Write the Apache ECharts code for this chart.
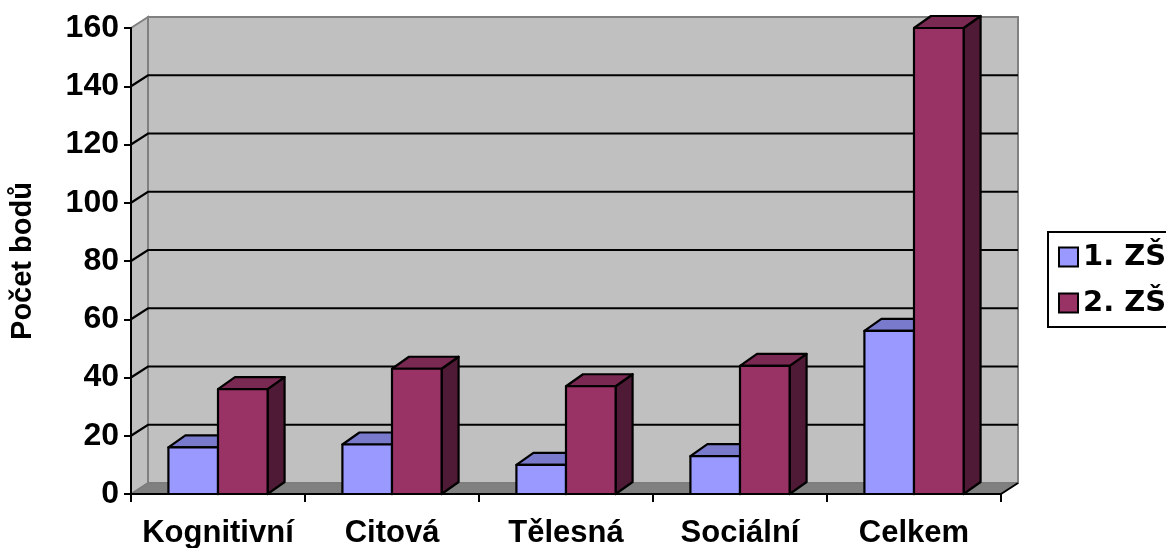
<!DOCTYPE html>
<html>
<head>
<meta charset="utf-8">
<script src="https://cdn.jsdelivr.net/npm/echarts@6/dist/echarts.min.js"></script>
<style>
  html, body { margin: 0; padding: 0; background: #ffffff; }
  #chart { width: 1166px; height: 548px; }
</style>
</head>
<body>
<div id="chart"></div>
<script>
// Categories and values (počet bodů)
const categories = ['Kognitivní', 'Citová', 'Tělesná', 'Sociální', 'Celkem'];
const seriesNames = ['1. ZŠ', '2. ZŠ'];
const values1 = [16, 17, 10, 13, 56];
const values2 = [36, 43, 37, 44, 160];
const yTicks = [0, 20, 40, 60, 80, 100, 120, 140, 160];
const axisTitle = 'Počet bodů';

// 3D look: depth offset of walls and columns
const WALL_DX = 17, WALL_DY = -11;
const BAR_DX = 17, BAR_DY = -12;
const BAR_RATIO = 0.285;
const FONT = '"Liberation Sans", Arial, sans-serif';

const palette = [
  { front: '#9999ff', top: '#7a7acc', side: '#4f4f85' },
  { front: '#993366', top: '#7a2952', side: '#4f1a35' }
];

function renderWalls(params, api) {
  const cs = params.coordSys;
  const x = cs.x, y = cs.y, w = cs.width, h = cs.height;
  const children = [];
  // back wall
  children.push({
    type: 'rect',
    shape: { x: x + WALL_DX, y: y + WALL_DY, width: w, height: h },
    style: { fill: '#c0c0c0', stroke: '#808080', lineWidth: 2 }
  });
  // left side wall
  children.push({
    type: 'polygon',
    shape: { points: [[x, y + h], [x + WALL_DX, y + h + WALL_DY], [x + WALL_DX, y + WALL_DY], [x, y]] },
    style: { fill: '#c0c0c0', stroke: '#808080', lineWidth: 2 }
  });
  // floor
  children.push({
    type: 'polygon',
    shape: { points: [[x, y + h], [x + w, y + h], [x + w + WALL_DX, y + h + WALL_DY], [x + WALL_DX, y + h + WALL_DY]] },
    style: { fill: '#808080', stroke: '#7a7a7a', lineWidth: 1 }
  });
  // right edge of the floor
  children.push({
    type: 'line',
    shape: { x1: x + w, y1: y + h, x2: x + w + WALL_DX, y2: y + h + WALL_DY },
    style: { stroke: '#000', lineWidth: 2 }
  });
  // gridlines: across the side wall and the back wall
  yTicks.forEach(function (v) {
    if (v === yTicks[0] || v === yTicks[yTicks.length - 1]) return;
    const yy = api.coord([0, v])[1];
    children.push({
      type: 'polyline',
      shape: { points: [[x, yy], [x + WALL_DX, yy + WALL_DY], [x + w + WALL_DX, yy + WALL_DY]] },
      style: { stroke: '#000', lineWidth: 2.2, fill: null }
    });
  });
  return { type: 'group', children: children };
}

function makeBarRenderer(idx) {
  const col = palette[idx];
  return function (params, api) {
    const ci = api.value(0), v = api.value(1);
    const base = api.coord([ci, 0]);
    const tp = api.coord([ci, v]);
    const band = api.size([1, 0])[0];
    const bw = band * BAR_RATIO;
    const x0 = base[0] + (idx === 0 ? -bw : 0);
    const x1 = x0 + bw;
    const yb = base[1], yt = tp[1];
    const st = { stroke: '#000', lineWidth: 2.2, lineJoin: 'round' };
    return {
      type: 'group',
      children: [
        { type: 'polygon', shape: { points: [[x1, yt], [x1 + BAR_DX, yt + BAR_DY], [x1 + BAR_DX, yb + BAR_DY], [x1, yb]] },
          style: Object.assign({ fill: col.side }, st) },
        { type: 'polygon', shape: { points: [[x0, yt], [x0 + BAR_DX, yt + BAR_DY], [x1 + BAR_DX, yt + BAR_DY], [x1, yt]] },
          style: Object.assign({ fill: col.top }, st) },
        { type: 'rect', shape: { x: x0, y: yt, width: bw, height: yb - yt },
          style: Object.assign({ fill: col.front }, st) }
      ]
    };
  };
}

const chart = echarts.init(document.getElementById('chart'), null, { renderer: 'canvas' });
chart.setOption({
  animation: false,
  backgroundColor: '#ffffff',
  grid: { left: 131, right: 165, top: 28, bottom: 54, containLabel: false, outerBoundsMode: 'none' },
  legend: {
    orient: 'vertical',
    left: 1048,
    top: 232,
    backgroundColor: '#ffffff',
    borderColor: '#000',
    borderWidth: 2,
    borderRadius: 0,
    padding: [10, 30, 9, 10],
    itemWidth: 19,
    itemHeight: 19,
    itemGap: 16,
    icon: 'rect',
    textStyle: { fontFamily: '"DejaVu Sans", sans-serif', fontWeight: 'bold', fontSize: 29, color: '#000', lineHeight: 30 },
    data: seriesNames.map(function (n, i) {
      return { name: n, itemStyle: { color: palette[i].front, borderColor: '#000', borderWidth: 2 } };
    })
  },
  xAxis: {
    type: 'category',
    data: categories,
    z: 10,
    axisLine: { show: true, lineStyle: { color: '#000', width: 2 } },
    axisTick: { show: true, length: 8, lineStyle: { color: '#000', width: 2 } },
    axisLabel: { interval: 0, color: '#000', fontFamily: FONT, fontWeight: 'bold', fontSize: 31, margin: 24 },
    splitLine: { show: false }
  },
  yAxis: {
    type: 'value',
    min: 0,
    max: 160,
    interval: 20,
    z: 10,
    name: axisTitle,
    nameLocation: 'middle',
    nameRotate: 90,
    nameGap: 94,
    nameTextStyle: { color: '#000', fontFamily: FONT, fontWeight: 'bold', fontSize: 29 },
    axisLine: { show: true, lineStyle: { color: '#000', width: 2 } },
    axisTick: { show: true, length: 7, lineStyle: { color: '#000', width: 2 } },
    axisLabel: { color: '#000', fontFamily: FONT, fontWeight: 'bold', fontSize: 32, margin: 12 },
    splitLine: { show: false }
  },
  series: [
    {
      type: 'custom',
      name: 'walls',
      z: 1,
      clip: false,
      silent: true,
      renderItem: renderWalls,
      data: [[0, 0]]
    },
    {
      type: 'custom',
      name: seriesNames[0],
      z: 2,
      clip: false,
      itemStyle: { color: palette[0].front },
      renderItem: makeBarRenderer(0),
      data: categories.map(function (c, i) { return [i, values1[i]]; })
    },
    {
      type: 'custom',
      name: seriesNames[1],
      z: 3,
      clip: false,
      itemStyle: { color: palette[1].front },
      renderItem: makeBarRenderer(1),
      data: categories.map(function (c, i) { return [i, values2[i]]; })
    }
  ]
});
</script>
</body>
</html>
